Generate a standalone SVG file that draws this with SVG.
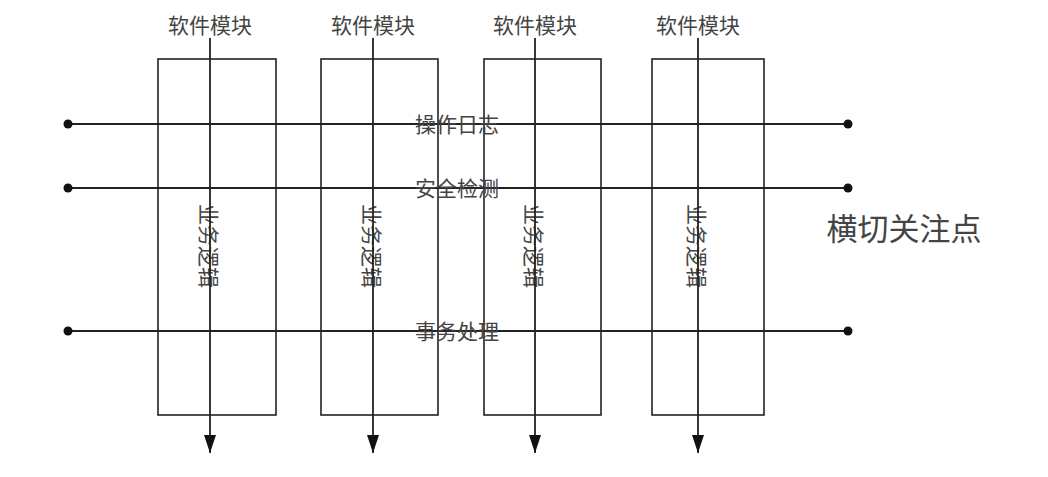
<svg xmlns="http://www.w3.org/2000/svg" width="1048" height="477" viewBox="0 0 1048 477">
<style>
.box{fill:none;stroke:#222;stroke-width:1.6}
.ln{stroke:#222;stroke-width:1.8;fill:none}
.t{font-family:"Noto Sans CJK SC","Liberation Serif",sans-serif;fill:#444;text-anchor:middle;dominant-baseline:central}
.s{font-size:21px}
.b{font-size:31px}
.dot{fill:#111}
</style>
<defs>
<marker id="arr" viewBox="0 0 18 12" refX="18" refY="6" markerWidth="18" markerHeight="12" markerUnits="userSpaceOnUse" orient="auto">
<path d="M0,0 L18,6 L0,12 Z" fill="#111"/>
</marker>
</defs>
<rect width="1048" height="477" fill="#fff"/>
<g id="module1">
<rect class="box" x="158" y="59" width="118" height="356"/>
<text class="t s" x="210" y="24">软件模块</text>
<text class="t s" transform="translate(210,246) rotate(90)">业务逻辑</text>
</g>
<g id="module2">
<rect class="box" x="321" y="59" width="117" height="356"/>
<text class="t s" x="373" y="24">软件模块</text>
<text class="t s" transform="translate(373,246) rotate(90)">业务逻辑</text>
</g>
<g id="module3">
<rect class="box" x="484" y="59" width="117" height="356"/>
<text class="t s" x="535" y="24">软件模块</text>
<text class="t s" transform="translate(535,246) rotate(90)">业务逻辑</text>
</g>
<g id="module4">
<rect class="box" x="652" y="59" width="112" height="356"/>
<text class="t s" x="698" y="24">软件模块</text>
<text class="t s" transform="translate(698,246) rotate(90)">业务逻辑</text>
</g>
<g id="connectors">
<line class="ln" x1="210" y1="38" x2="210" y2="453" marker-end="url(#arr)"/>
<line class="ln" x1="373" y1="38" x2="373" y2="453" marker-end="url(#arr)"/>
<line class="ln" x1="535" y1="38" x2="535" y2="453" marker-end="url(#arr)"/>
<line class="ln" x1="698" y1="38" x2="698" y2="453" marker-end="url(#arr)"/>
<line class="ln" x1="68" y1="124" x2="848" y2="124"/>
<line class="ln" x1="68" y1="188" x2="848" y2="188"/>
<line class="ln" x1="68" y1="331" x2="848" y2="331"/>
<circle class="dot" cx="68" cy="124" r="4.5"/>
<circle class="dot" cx="848" cy="124" r="4.5"/>
<circle class="dot" cx="68" cy="188" r="4.5"/>
<circle class="dot" cx="848" cy="188" r="4.5"/>
<circle class="dot" cx="68" cy="331" r="4.5"/>
<circle class="dot" cx="848" cy="331" r="4.5"/>
</g>
<g id="concerns">
<text class="t s" x="457" y="123">操作日志</text>
<text class="t s" x="457" y="187">安全检测</text>
<text class="t s" x="457" y="330">事务处理</text>
<text class="t b" x="904" y="226">横切关注点</text>
</g>
</svg>
